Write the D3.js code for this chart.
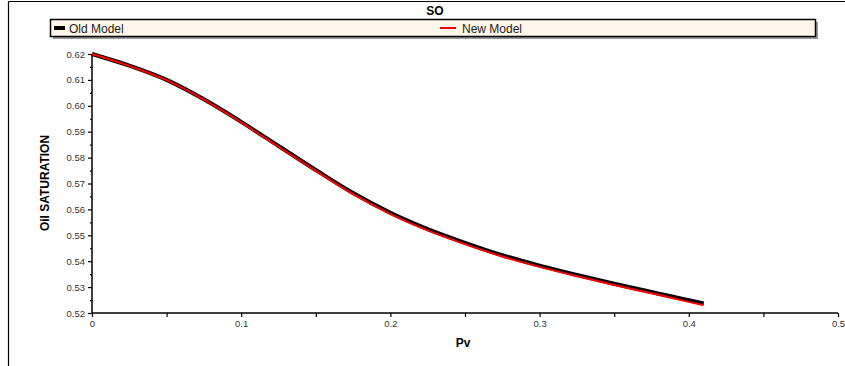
<!DOCTYPE html>
<html>
<head>
<meta charset="utf-8">
<script src="https://cdn.jsdelivr.net/npm/d3@7"></script>
<style>
  body { margin: 0; background: #fff; }
  svg { display: block; font-family: "Liberation Sans", Arial, sans-serif; }
</style>
</head>
<body>
<svg id="chart"></svg>
<script>
// data
var pvValues = [0, 0.025, 0.05, 0.075, 0.1, 0.125, 0.15, 0.175, 0.2, 0.225, 0.25, 0.275, 0.3, 0.325, 0.35, 0.375, 0.4, 0.41];
var oldModel = [0.6200, 0.6155, 0.6100, 0.6025, 0.5938, 0.5845, 0.5752, 0.5663, 0.5587, 0.5524, 0.5471, 0.5423, 0.5383, 0.5347, 0.5313, 0.5281, 0.5249, 0.5237];
var newModel = [0.6200, 0.6154, 0.6099, 0.6024, 0.5936, 0.5842, 0.5749, 0.5659, 0.5582, 0.5519, 0.5466, 0.5418, 0.5378, 0.5342, 0.5308, 0.5276, 0.5243, 0.5230];
var xTicks = [0, 0.1, 0.2, 0.3, 0.4, 0.5];
var yTicks = [0.52, 0.53, 0.54, 0.55, 0.56, 0.57, 0.58, 0.59, 0.60, 0.61, 0.62];
var seriesNames = ["Old Model", "New Model"];

var W = 845, H = 366;
var svg = d3.select("#chart").attr("width", W).attr("height", H);

// outer frame (top + left only)
svg.append("line").attr("x1", 8.5).attr("y1", 1.5).attr("x2", W).attr("y2", 1.5).attr("stroke", "#000").attr("stroke-width", 1.2);
svg.append("line").attr("x1", 8.5).attr("y1", 1.5).attr("x2", 8.5).attr("y2", H).attr("stroke", "#000").attr("stroke-width", 1.2);

var x = d3.scaleLinear().domain([0, 0.5]).range([92, 838]);
var y = d3.scaleLinear().domain([0.52, 0.62]).range([313, 54]);

// title
svg.append("text").attr("x", 435).attr("y", 15).attr("text-anchor", "middle")
  .attr("font-size", 12).attr("font-weight", "bold").text("SO");

// legend
var lg = svg.append("g");
lg.append("rect").attr("x", 53).attr("y", 22).attr("width", 765).attr("height", 17).attr("fill", "#999");
lg.append("rect").attr("x", 50.5).attr("y", 19.5).attr("width", 765).attr("height", 17)
  .attr("fill", "#fff8ea").attr("stroke", "#000").attr("stroke-width", 1.5);
lg.append("line").attr("x1", 54).attr("x2", 65).attr("y1", 28).attr("y2", 28).attr("stroke", "#000").attr("stroke-width", 4);
lg.append("text").attr("x", 69).attr("y", 33).attr("font-size", 12).attr("fill", "#222").text(seriesNames[0]);
lg.append("line").attr("x1", 440).attr("x2", 456).attr("y1", 28).attr("y2", 28).attr("stroke", "#e00").attr("stroke-width", 2);
lg.append("text").attr("x", 462).attr("y", 33).attr("font-size", 12).attr("fill", "#222").text(seriesNames[1]);

// axes
var xAxis = d3.axisBottom(x).tickValues(xTicks).tickSize(4).tickPadding(3)
  .tickFormat(function (d) { return d === 0 ? "0" : d3.format(".1f")(d); });
var gx = svg.append("g").attr("transform", "translate(0,313)").call(xAxis);
var xMinor = d3.axisBottom(x).tickValues([0.05, 0.15, 0.25, 0.35, 0.45]).tickSize(4).tickFormat("");
svg.append("g").attr("transform", "translate(0,313)").call(xMinor).select(".domain").remove();

var yAxis = d3.axisLeft(y).tickValues(yTicks).tickSize(4).tickPadding(3).tickFormat(d3.format(".2f"));
var gy = svg.append("g").attr("transform", "translate(92,0)").call(yAxis);
var yMinorVals = yTicks.slice(0, -1).map(function (d) { return d + 0.005; });
svg.append("g").attr("transform", "translate(92,0)")
  .call(d3.axisLeft(y).tickValues(yMinorVals).tickSize(2).tickFormat(""))
  .select(".domain").remove();

svg.selectAll(".domain").attr("stroke", "#000").attr("stroke-width", 1.5);
svg.selectAll(".tick line").attr("stroke", "#000").attr("stroke-width", 1.2);
svg.selectAll(".tick text").attr("font-size", 9.5).attr("fill", "#333")
  .attr("font-family", "'Liberation Sans', Arial, sans-serif");
gx.select(".domain").attr("d", "M92,0H838");
gy.select(".domain").attr("d", "M0,54V313");

// axis labels
svg.append("text").attr("x", 463).attr("y", 347).attr("text-anchor", "middle")
  .attr("font-size", 12).attr("font-weight", "bold").text("Pv");
svg.append("text").attr("transform", "translate(49,183) rotate(-90)").attr("text-anchor", "middle")
  .attr("font-size", 12).attr("font-weight", "bold").text("Oil SATURATION");

// lines
var line = d3.line().x(function (d) { return x(d[0]); }).y(function (d) { return y(d[1]); }).curve(d3.curveMonotoneX);
svg.append("path").datum(d3.zip(pvValues, oldModel)).attr("d", line)
  .attr("fill", "none").attr("stroke", "#000").attr("stroke-width", 4);
svg.append("path").datum(d3.zip(pvValues, newModel)).attr("d", line)
  .attr("fill", "none").attr("stroke", "#f00").attr("stroke-width", 2);
</script>
</body>
</html>
